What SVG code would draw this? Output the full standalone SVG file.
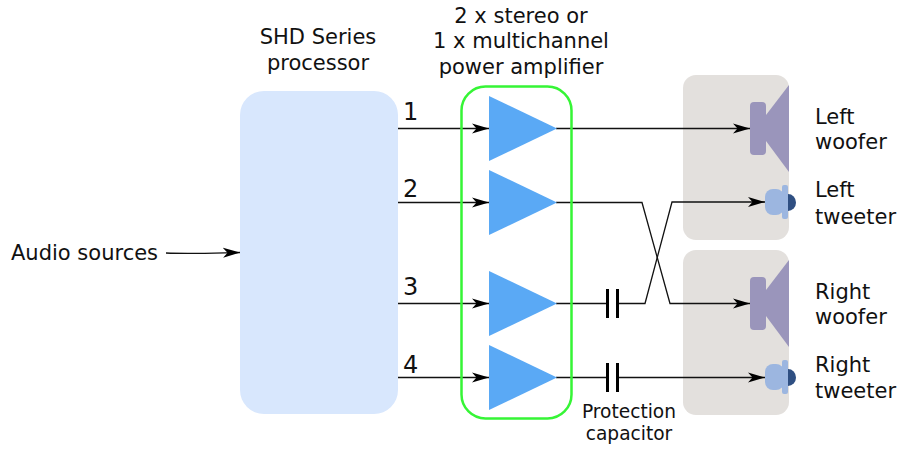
<svg xmlns="http://www.w3.org/2000/svg" width="899" height="449" viewBox="0 0 899 449">
<style>
text{font-family:"DejaVu Sans",sans-serif;fill:#111;font-size:21px}
.c{text-anchor:middle}
.s{font-size:18.6px}
.n{font-size:24px}
.w{fill:none;stroke:#111;stroke-width:1.3}
.cap{stroke:#000;stroke-width:3;fill:none}
.box{fill:#e3e0dd}
.tri{fill:#5aa9f5}
.wf{fill:#9a95bb}
.tw{fill:#9cb6e0}
.twb{fill:#2f4f82}
</style>
<defs>
<marker id="a" markerUnits="userSpaceOnUse" markerWidth="18" markerHeight="12" refX="17" refY="6" orient="auto">
<path d="M0 1 L17 6 L0 11 L4.500 6Z" fill="#000"/>
</marker>
</defs>
<g id="processor"><rect x="240" y="91" width="158" height="323" rx="24" fill="#d8e7fd"/>
<text class="c" x="318" y="44">SHD Series</text><text class="c" x="318" y="70">processor</text></g>
<g id="speaker-box-left"><rect class="box" x="683" y="75" width="106" height="165" rx="13"/></g>
<g id="speaker-box-right"><rect class="box" x="683" y="250" width="106" height="165" rx="13"/></g>
<g id="connectors">
<path class="w" marker-end="url(#a)" d="M166 253C190 254 215 253 240 252.500"/>
<path class="w" marker-end="url(#a)" d="M398 128.500H489"/>
<path class="w" marker-end="url(#a)" d="M398 202.500H489"/>
<path class="w" marker-end="url(#a)" d="M398 303.500H489"/>
<path class="w" marker-end="url(#a)" d="M398 377.500H489"/>
<path class="w" marker-end="url(#a)" d="M556 128.500H750"/>
<path class="w" marker-end="url(#a)" d="M556 202.500H642L670 303.500H750"/>
<path class="w" marker-end="url(#a)" d="M556 303.500H606M619 303.500H645L672 202H765"/>
<path class="w" marker-end="url(#a)" d="M556 377.500H606M619 377.500H765"/>
<path class="cap" d="M607.500 289V318M617.500 289V318M607.500 363V392M617.500 363V392"/>
</g>
<g id="amp-group"><rect x="461.500" y="86.500" width="110" height="332" rx="24" fill="none" stroke="#36f536" stroke-width="2.500"/>
<text class="c" x="521" y="23">2 x stereo or</text><text class="c" x="521" y="48">1 x multichannel</text><text class="c" x="521" y="74">power amplifier</text></g>
<g id="amp-1"><path class="tri" d="M489 96L557 128.500L489 161Z"/><text class="n" x="403" y="120">1</text></g>
<g id="amp-2"><path class="tri" d="M489 170L557 202.500L489 235Z"/><text class="n" x="403" y="197">2</text></g>
<g id="amp-3"><path class="tri" d="M489 271L557 303.500L489 336Z"/><text class="n" x="403" y="295">3</text></g>
<g id="amp-4"><path class="tri" d="M489 345L557 377.500L489 410Z"/><text class="n" x="403" y="373">4</text></g>
<g id="left-woofer"><rect class="wf" x="750" y="102" width="16" height="53" rx="4"/><path class="wf" d="M766 115L789 85V172L766 141Z"/>
<text x="815" y="124">Left</text><text x="815" y="149">woofer</text></g>
<g id="left-tweeter"><path class="twb" d="M788 194a8 8.500 0 0 1 0 17Z"/><rect class="tw" x="782" y="185" width="6" height="34" rx="2"/><rect class="tw" x="765" y="189" width="19" height="26" rx="8"/>
<text x="815" y="197">Left</text><text x="815" y="224">tweeter</text></g>
<g id="right-woofer"><rect class="wf" x="750" y="277" width="16" height="53" rx="4"/><path class="wf" d="M766 290L789 260V347L766 316Z"/>
<text x="815" y="299">Right</text><text x="815" y="324">woofer</text></g>
<g id="right-tweeter"><path class="twb" d="M788 369a8 8.500 0 0 1 0 17Z"/><rect class="tw" x="782" y="360" width="6" height="34" rx="2"/><rect class="tw" x="765" y="364" width="19" height="26" rx="8"/>
<text x="815" y="372">Right</text><text x="815" y="398">tweeter</text></g>
<g id="audio-sources"><text x="11" y="260">Audio sources</text></g>
<g id="protection-label"><text class="c s" x="629" y="418">Protection</text><text class="c s" x="629" y="440">capacitor</text></g>
</svg>
